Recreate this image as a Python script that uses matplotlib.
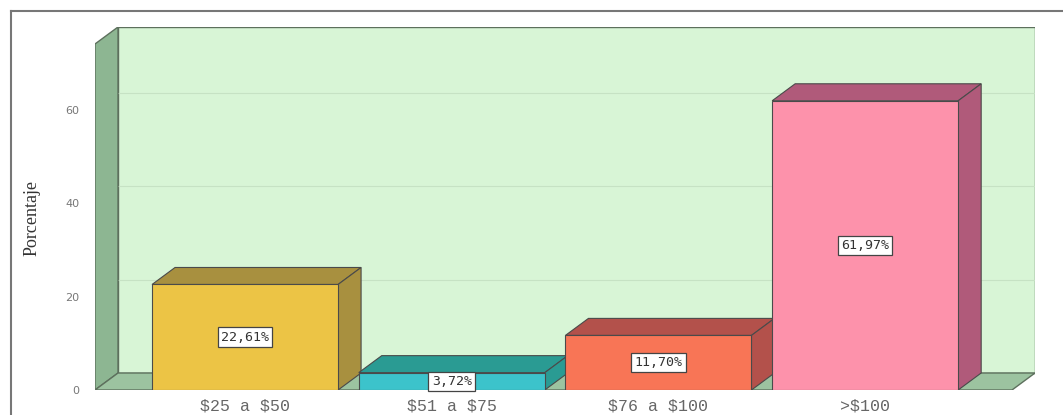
import matplotlib
matplotlib.use("Agg")
import matplotlib.pyplot as plt
from matplotlib.patches import Polygon
from matplotlib.lines import Line2D

categories = ["$25 a $50", "$51 a $75", "$76 a $100", ">$100"]
values = [22.61, 3.72, 11.70, 61.97]
value_labels = ["22,61%", "3,72%", "11,70%", "61,97%"]
yticks = [0, 20, 40, 60]
ylabel = "Porcentaje"

front_colors = ["#ecc445", "#3cc3cb", "#f87556", "#fd92ab"]
side_colors = ["#a8903f", "#2a9b93", "#b3514b", "#b05a7a"]

W, H = 1063, 415
fig = plt.figure(figsize=(W / 100, H / 100), dpi=100)
fig.patch.set_facecolor("white")

# axes region (pixels)
ax_l, ax_r, ax_t, ax_b = 95, 1035, 27, 390
ax = fig.add_axes([ax_l / W, 1 - ax_b / H, (ax_r - ax_l) / W, (ax_b - ax_t) / H])

sx = 206.7  # px per category
sy = 4.667  # px per percent
xl = -0.726
xr = xl + (ax_r - ax_l) / sx
ytop = (ax_b - ax_t) / sy
ddx = 23 / sx
ddy = 17 / sy

ax.set_xlim(xl, xr)
ax.set_ylim(0, ytop)
for s in ax.spines.values():
    s.set_visible(False)
ax.set_facecolor("none")

wall_edge = "#5d705d"
# back wall
ax.add_patch(Polygon([(xl + ddx, ddy), (xr, ddy), (xr, ytop), (xl + ddx, ytop)],
                     closed=True, facecolor="#d8f5d6", edgecolor=wall_edge, lw=1.0, zorder=1))
# gridlines on back wall
for t in yticks[1:]:
    ax.plot([xl + ddx, xr], [t + ddy, t + ddy], color="#c6e2c4", lw=0.8, zorder=1.5)
# left side wall
ax.add_patch(Polygon([(xl, 0), (xl + ddx, ddy), (xl + ddx, ytop), (xl, ytop - ddy)],
                     closed=True, facecolor="#8db692", edgecolor=wall_edge, lw=1.0, zorder=2))
# floor
ax.add_patch(Polygon([(xl, 0), (xr - ddx, 0), (xr, ddy), (xl + ddx, ddy)],
                     closed=True, facecolor="#9cc3a0", edgecolor=wall_edge, lw=1.0, zorder=2))

xs = list(range(len(categories)))
bw = 0.9
edge = "#4a4a4a"
for i, (x, v) in enumerate(zip(xs, values)):
    z = 3 + i
    ax.bar(x, v, width=bw, color=front_colors[i], edgecolor=edge, lw=0.8, zorder=z + 0.2)
    x0, x1 = x - bw / 2, x + bw / 2
    ax.add_patch(Polygon([(x0, v), (x1, v), (x1 + ddx, v + ddy), (x0 + ddx, v + ddy)],
                         closed=True, facecolor=side_colors[i], edgecolor=edge, lw=0.8, zorder=z))
    ax.add_patch(Polygon([(x1, 0), (x1 + ddx, ddy), (x1 + ddx, v + ddy), (x1, v)],
                         closed=True, facecolor=side_colors[i], edgecolor=edge, lw=0.8, zorder=z))
    ax.text(x, v / 2, value_labels[i], ha="center", va="center", fontsize=9.5,
            family="DejaVu Sans Mono", color="#333333", zorder=z + 0.5,
            bbox=dict(boxstyle="square,pad=0.25", facecolor="white", edgecolor="#444444", lw=0.9))

ax.set_yticks(yticks)
ax.set_yticklabels([str(t) for t in yticks], fontsize=8, color="#777777", family="DejaVu Sans")
ax.tick_params(axis="y", length=0, pad=11)
ax.set_xticks(xs)
ax.set_xticklabels([c.replace("$", r"\$") for c in categories], fontsize=12,
                   family="Liberation Mono", color="#666666")
ax.tick_params(axis="x", length=0, pad=6)

fig.text(32 / W, 1 - 218 / H, ylabel, rotation=90, ha="center", va="center",
         fontsize=13, family="Liberation Serif", color="#333333")

# outer frame
fig.add_artist(Line2D([11 / W, 11 / W], [1 - 11 / H, 0], color="#777777", lw=1.5))
fig.add_artist(Line2D([11 / W, 1], [1 - 11 / H, 1 - 11 / H], color="#777777", lw=1.5))

fig.savefig("out.png", dpi=100, facecolor="white")
